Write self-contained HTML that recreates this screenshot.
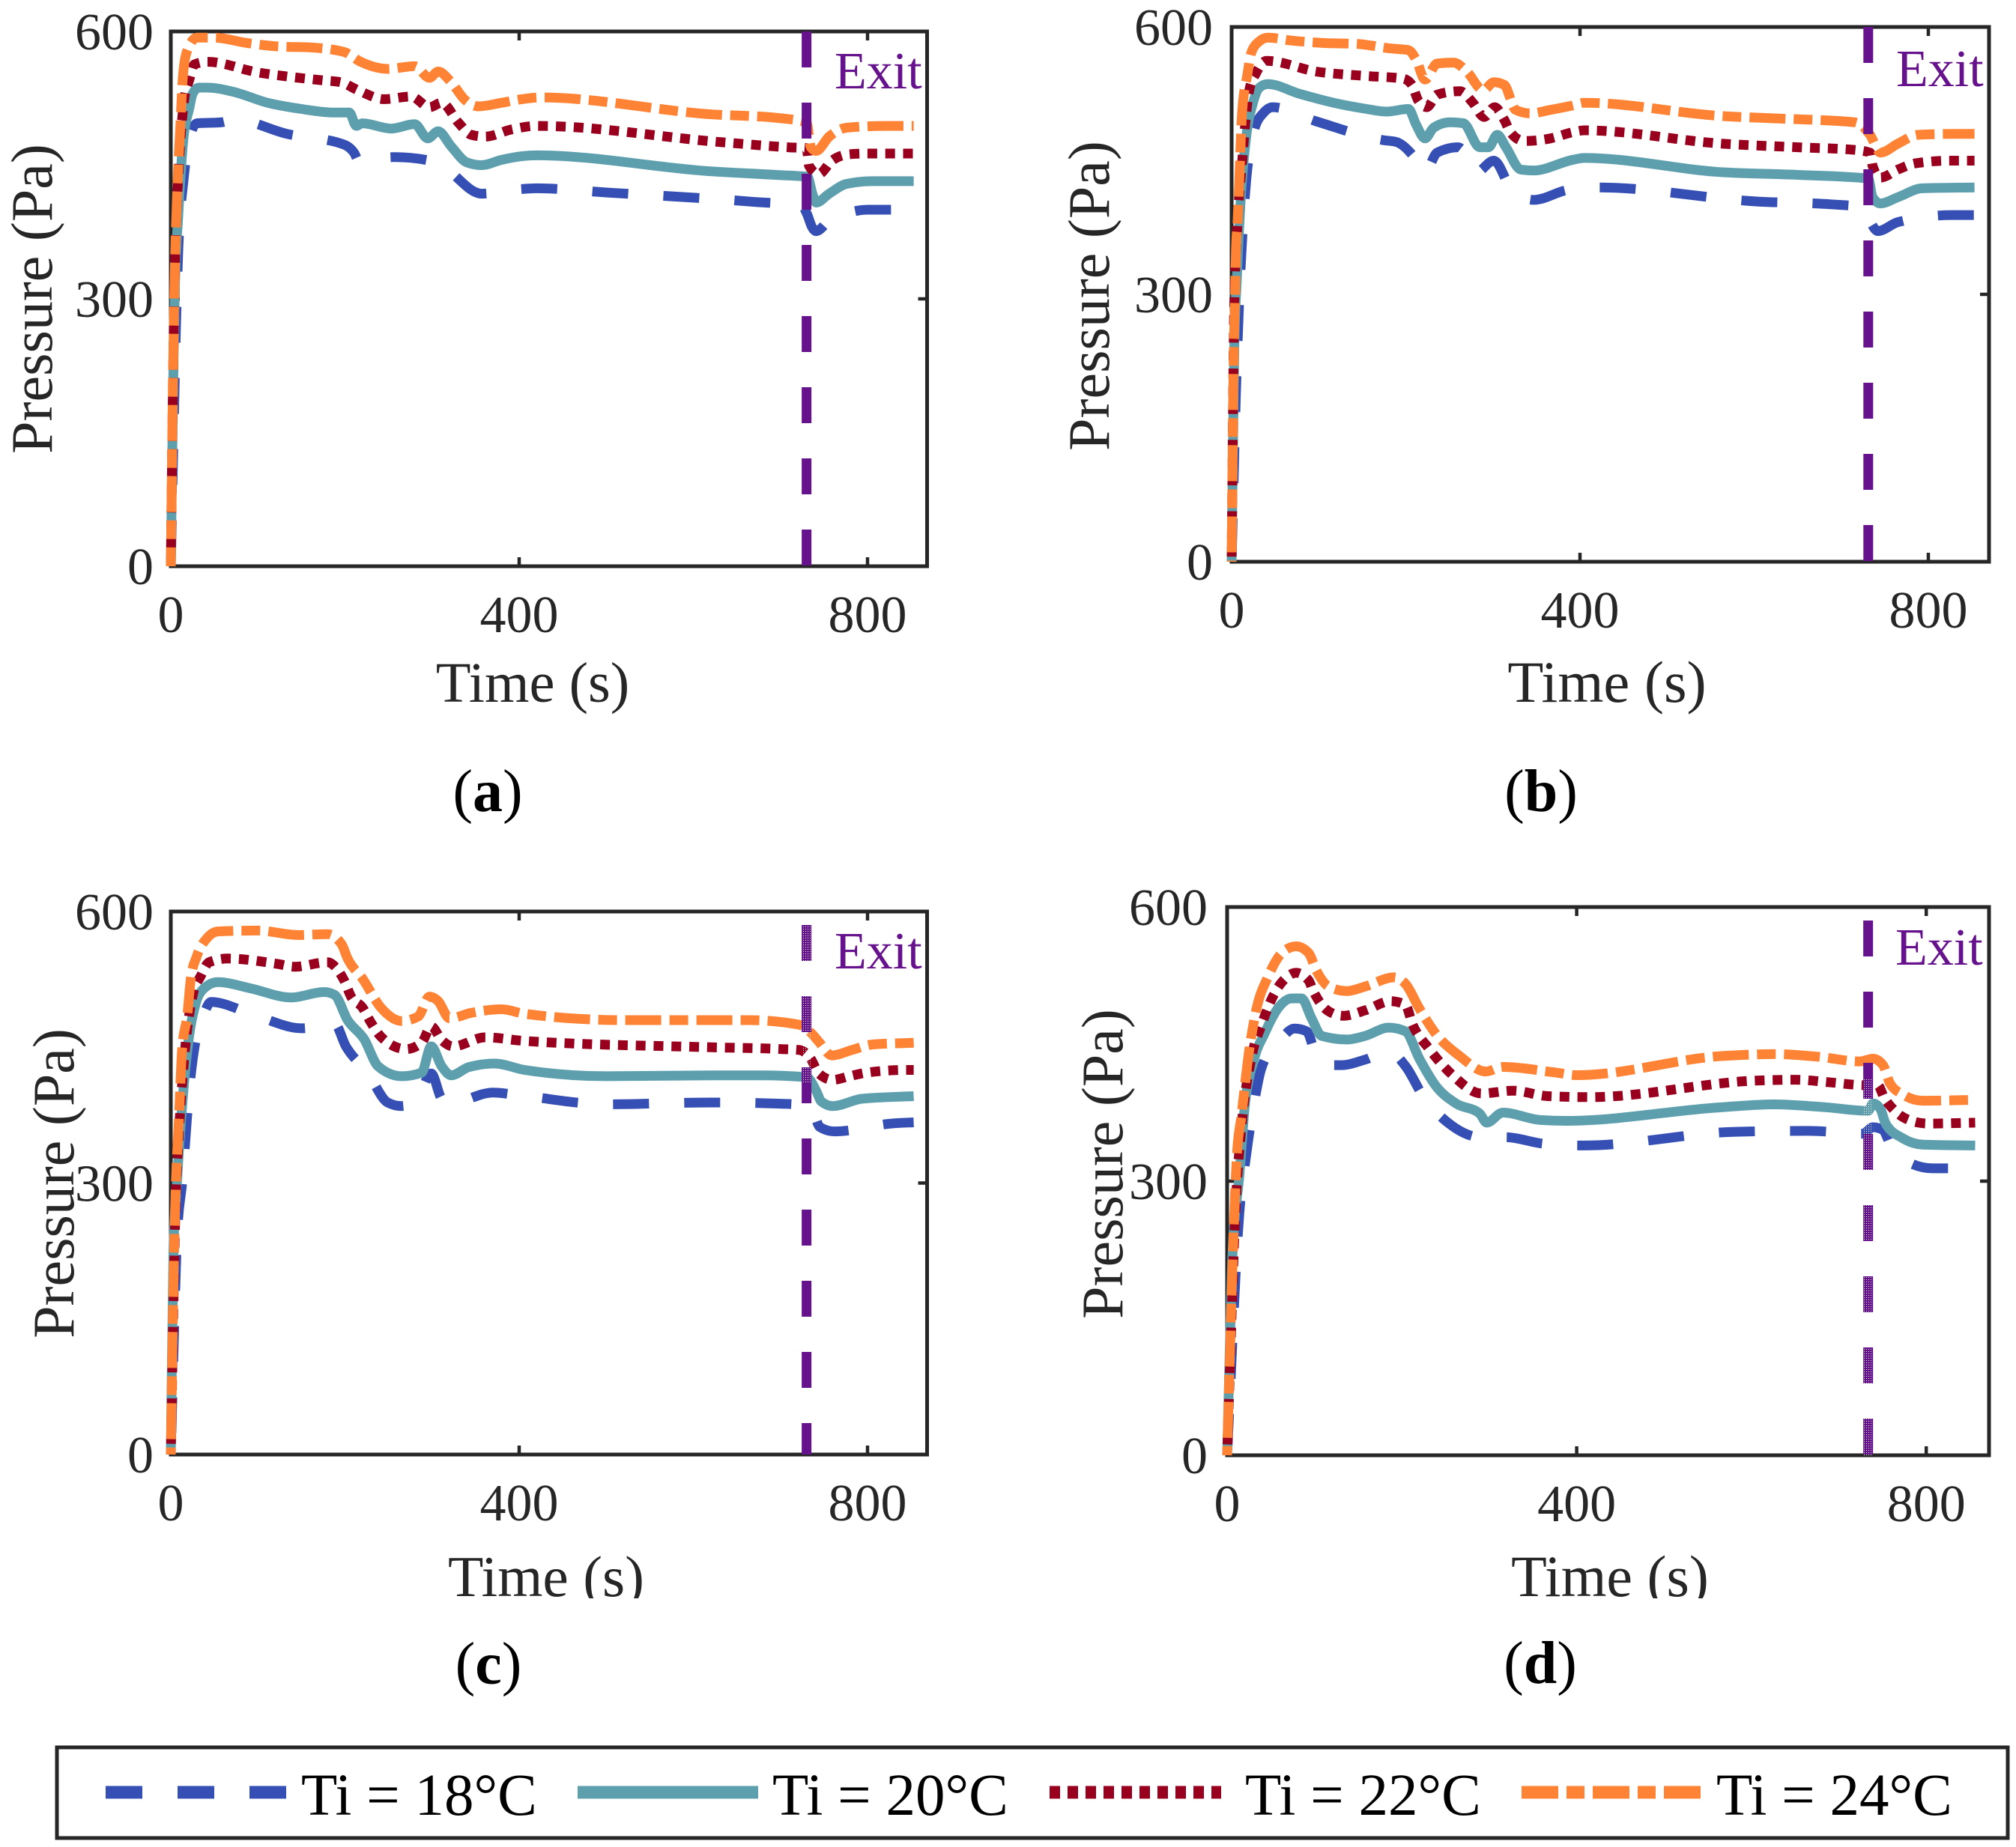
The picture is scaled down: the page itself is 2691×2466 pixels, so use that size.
<!DOCTYPE html>
<html lang="en">
<head>
<meta charset="utf-8">
<title>Pressure versus time for four panels</title>
<style>
html,body{margin:0;padding:0;background:#fff;}
svg{display:block;font-family:"Liberation Serif","Times New Roman",serif;}
</style>
</head>
<body>
<svg id="figure" xmlns="http://www.w3.org/2000/svg" width="2691" height="2466" viewBox="0 0 2691 2466">
  <defs>
    <pattern id="stipple" patternUnits="userSpaceOnUse" width="3" height="3"><rect x="1" y="1" width="1" height="1" fill="#ffffff"/></pattern>
    <clipPath id="clip-c"><rect x="400" y="2040" width="700" height="94"/></clipPath>
    <clipPath id="clip-d"><rect x="1800" y="2040" width="700" height="94"/></clipPath>
  </defs>
  <rect width="2691" height="2466" fill="#ffffff"/>
  <g id="panels"></g>
  <g>
    <rect x="76" y="2333" width="2604" height="121" fill="#ffffff" stroke="#262626" stroke-width="5"/>
    <g>
      <line x1="141" x2="382" y1="2393" y2="2393" stroke="#354fb4" stroke-width="17" stroke-dasharray="49 47"/>
      <text x="402" y="2423" font-size="79" fill="#000">Ti = 18°C</text>
    </g>
    <g>
      <line x1="771" x2="1012" y1="2393" y2="2393" stroke="#5e9fae" stroke-width="17"/>
      <text x="1031" y="2423" font-size="79" fill="#000">Ti = 20°C</text>
    </g>
    <g>
      <line x1="1401" x2="1630" y1="2393" y2="2393" stroke="#98001d" stroke-width="17" stroke-dasharray="14 10"/>
      <text x="1662" y="2423" font-size="79" fill="#000">Ti = 22°C</text>
    </g>
    <g>
      <line x1="2031" x2="2272" y1="2393" y2="2393" stroke="#ff8334" stroke-width="17" stroke-dasharray="49 11 24 11"/>
      <text x="2291" y="2423" font-size="79" fill="#000">Ti = 24°C</text>
    </g>
  </g>
</svg>
<script>
const xTickValues = [0, 400, 800];
const yTickValues = [0, 300, 600];
const seriesLabels = ['18', '20', '22', '24'];

const aTime18 = [0,3,6,8.6,14.7,23,30,57,73,134,199,211,215,257,307,318,357,400,420,505,667,725,731,736,741,756,776,800,853];
const aPressure18 = [0,140,271,355,434,485,497,498,501,485,473,463,456,459,453,445,418,423,424,419,409,404,394,381,376,388,396,400,400];
const aTime20 = [0,3.2,4.7,8.6,14,21.5,25,32,42,73,111,150,188,205,213,220,253,280,295,307,322,340,357,380,403,420,621,696,731,737,741,756,776,805,853];
const aPressure20 = [0,234,314,394,475,515,530,537,537,532,520,513,509,509,494,497,491,496,480,488,471,453,450,456,460,461,443,439,437,417,408,418,429,432,432];
const aTime22 = [0,3.7,5.5,9,15.5,21,27,42,100,138,176,195,215,245,276,297,311,330,345,361,391,420,630,710,730,733,744,759,777,797,853];
const aPressure22 = [0,285,366,445,524,545,563,566,554,549,545,543,534,524,527,515,520,498,484,482,490,494,476,470,469,449,440,455,462,463,463];
const aTime24 = [0,2.6,4.3,7,11,14,19,30,50,88,126,161,199,218,249,280,297,307,322,338,353,380,403,425,621,696,730,735,741,756,776,822,853];
const aPressure24 = [0,215,318,411,495,551,579,593,593,587,583,582,577,566,558,561,548,555,543,523,516,520,524,526,507,503,498,470,466,482,492,494,494];

const bTime18 = [0,5,10,15,26,37,47,97.5,174,189,212,222,236,260,270,281,301,322,347,385,420,606,688,725,733,742,765,828,853];
const bPressure18 = [0,190,322,406,485,504,510,494,473,471,451,437,459,465,456,437,450,417,406,417,420,404,401,398,382,371,381,389,389];
const bTime20 = [0,3,6,10,17,24,32,41.5,78,117,155,178,203,212,222,232,251,266,285,295,305,315,332,347,392,405,564,650,731,736,745,765,793,853];
const bPressure20 = [0,238,318,399,479,513,532,536,525,515,508,505,508,490,475,487,493,492,465,465,479,465,440,439,451,453,437,434,430,409,402,409,419,420];
const bTime22 = [0,3,6,12,20,28,40,97,155,197,207,214,224,236,262,277,290,302,313,320,336,366,392,405,564,650,716,733,736,745,765,785,825,853];
const bPressure22 = [0,288,367,448,528,548,562,550,545,542,535,518,510,524,528,515,499,510,496,482,472,475,482,484,469,465,462,459,444,431,440,447,450,450];
const bTime24 = [0,2.3,4,5,7,9,12,18,22.5,32,41.5,67,105,144,182,203,212,222,236,255,270,289,301,313,326,343,366,392,405,564,636,716,733,745,765,788,831,853];
const bPressure24 = [0,224,302,350,384,434,504,546,571,584,588,585,582,581,576,574,563,541,559,560,550,529,538,535,507,503,507,512,515,500,497,493,479,459,469,479,480,480];

const cTime18 = [0,7.4,13,21.6,30,38,46,100,150,169,188,201,226,249,265,282,299,311,320,370,400,500,621,690,730,738,745,762,830,853];
const cPressure18 = [0,244,300,407,465,487,500,484,471,473,476,451,422,389,385,391,421,393,388,400,397,387,389,388,386,378,362,357,366,367];
const cTime20 = [0,3,7.4,13,21,28.5,38,54,92,138,176,188,203,222,238,265,288,299,311,322,342,372,406,500,621,678,730,741,747,760,793,853];
const cPressure20 = [0,224,306,385,462,498,515,522,515,505,511,508,480,459,429,418,422,451,429,419,428,432,425,418,419,419,417,402,390,385,393,396];
const cTime22 = [0,5.5,9.3,15,26,34,44,65,123,142,180,192,199.5,207,220,230,242,270,288,299,311,324,361,406,621,702,722,735,744,760,779,799,845,853];
const cPressure22 = [0,277,355,433,511,528,544,548,542,539,544,535,523,506,494,477,461,448,455,473,458,451,461,457,450,448,447,437,421,414,418,422,425,425];
const cTime24 = [0,3.6,5.5,9.3,13,19,23,30,42,54,100,146,180,196,203,220,242,265,284,297,307,320,345,380,406,520,621,664,721,736,745,759,782,805,853];
const cPressure24 = [0,217,290,370,448,486,526,551,571,578,579,574,575,564,548,526,493,479,484,506,501,482,488,492,487,480,480,480,475,465,455,441,447,453,455];

const dTime18 = [0,14,22,31.4,39,62,77,91,102,114,131,158,185,204,225,254,291,319,362,408,582,665,727.5,739,750.5,758.5,779,807,856];
const dPressure18 = [0,265,330,388,423,456,467,464,437,427,427,433,442,426,392,363,348,348,341,339,354,355,352,359,356,341,321,314,314];
const dTime20 = [0,6.4,14,20,31,43,58,74,85,96.7,108,137,158,185,204,220,239,262,289,297,315.5,358,388,567,625,683,733.5,739,747.5,753.5,773,796,856];
const dPressure20 = [0,226,306,380,434,462,489,500,500,478,459,455,459,468,464,434,404,385,374,364,375,367,366,381,384,381,377,385,379,363,347,340,339];
const dTime22 = [0,10,16,28,39,55,68,79,93,98.6,116,133,158,187,204,212,231,258,291,327,367,415,605,651,691,730.5,744.5,751.5,764,780,802,856];
const dPressure22 = [0,278,355,436,470,507,523,528,520,508,486,481,487,497,493,472,445,416,396,399,393,392,410,411,408,405,405,392,377,367,363,364];
const dTime24 = [0,6.4,11.4,16,26,33,47,62,79,93,102.4,116,137,158,191,204,220,239,266,296,315.5,375,400,567,625,678,724,739,750.5,758.5,773,796,856];
const dPressure24 = [0,215,332,369,448,486,524,549,557,550,530,513,508,513,523,516,489,461,437,420,425,419,416,437,439,436,431,434,427,407,395,388,389];

const panels = [
  {id:'a', left:228, frameRight:1237.5, top:42, bottom:756, scaleX:1.1625, exitTime:730, exitTop:42,
   yTickRight:205, xTickBase:844, xLabelX:711, xLabelBase:937, xLabelSize:76.5, yLabelX:69, yLabelY:399,
   tagX:651, tagBase:1083, tag:'a', exitX:1114, exitBase:118, dashStarts:[647,0,625.4,673],
   series:[[aTime18,aPressure18],[aTime20,aPressure20],[aTime22,aPressure22],[aTime24,aPressure24]]},
  {id:'b', left:1644, frameRight:2655, top:36, bottom:750, scaleX:1.1625, exitTime:731, exitTop:36,
   yTickRight:1619, xTickBase:838, xLabelX:2145, xLabelBase:937, xLabelSize:78.5, yLabelX:1480, yLabelY:395,
   tagX:2057, tagBase:1083, tag:'b', exitX:2531, exitBase:115, dashStarts:[585,0,582,676],
   series:[[bTime18,bPressure18],[bTime20,bPressure20],[bTime22,bPressure22],[bTime24,bPressure24]]},
  {id:'c', left:228, frameRight:1237.5, top:1217, bottom:1942, scaleX:1.1625, exitTime:730, exitTop:1235,
   yTickRight:205, xTickBase:2030, xLabelX:729, xLabelBase:2131, xLabelSize:77.5, yLabelX:98, yLabelY:1580,
   tagX:652, tagBase:2248, tag:'c', exitX:1114, exitBase:1293, clip:'url(#clip-c)', dashStarts:[671,0,636,685],
   stippleTop:1235, stippleBottom:1445,
   series:[[cTime18,cPressure18],[cTime20,cPressure20],[cTime22,cPressure22],[cTime24,cPressure24]]},
  {id:'d', left:1638, frameRight:2655, top:1211, bottom:1943, scaleX:1.1665, exitTime:733.5, exitTop:1229,
   yTickRight:1612, xTickBase:2031, xLabelX:2149, xLabelBase:2131, xLabelSize:78, yLabelX:1498, yLabelY:1554,
   tagX:2056, tagBase:2247, tag:'d', exitX:2530, exitBase:1288, clip:'url(#clip-d)', dashStarts:[644,0,624,637],
   stippleTop:1441, stippleBottom:1943,
   series:[[dTime18,dPressure18],[dTime20,dPressure20],[dTime22,dPressure22],[dTime24,dPressure24]]}
];

const seriesStyles = [
  {color:'#354fb4', dash:'48 47'},
  {color:'#5e9fae', dash:''},
  {color:'#98001d', dash:'13 10.8'},
  {color:'#ff8334', dash:'48 11 25 11'}
];

const NS = 'http://www.w3.org/2000/svg';
const root = document.getElementById('panels');

function make(tag, attrs, parent, text) {
  const el = document.createElementNS(NS, tag);
  for (const k in attrs) el.setAttribute(k, attrs[k]);
  if (text !== undefined) el.textContent = text;
  parent.appendChild(el);
  return el;
}

function curvePath(xs, ys) {
  const n = xs.length, h = [], s = [], m = [];
  for (let i = 0; i < n - 1; i++) {
    h[i] = xs[i + 1] - xs[i];
    s[i] = (ys[i + 1] - ys[i]) / h[i];
  }
  m[0] = s[0];
  m[n - 1] = s[n - 2];
  for (let i = 1; i < n - 1; i++) {
    const p = (s[i - 1] * h[i] + s[i] * h[i - 1]) / (h[i - 1] + h[i]);
    const sign = (Math.sign(s[i - 1]) + Math.sign(s[i])) || 0;
    m[i] = sign * Math.min(Math.abs(s[i - 1]), Math.abs(s[i]), 0.5 * Math.abs(p));
  }
  let d = 'M' + xs[0].toFixed(1) + ' ' + ys[0].toFixed(1);
  for (let i = 0; i < n - 1; i++) {
    const t = h[i] / 3;
    d += 'C' + (xs[i] + t).toFixed(1) + ' ' + (ys[i] + m[i] * t).toFixed(1) + ' ' +
         (xs[i + 1] - t).toFixed(1) + ' ' + (ys[i + 1] - m[i + 1] * t).toFixed(1) + ' ' +
         xs[i + 1].toFixed(1) + ' ' + ys[i + 1].toFixed(1);
  }
  return d;
}

function lengthAtX(path, targetX) {
  let lo = 0, hi = path.getTotalLength();
  for (let i = 0; i < 30; i++) {
    const mid = (lo + hi) / 2;
    if (path.getPointAtLength(mid).x < targetX) lo = mid;
    else hi = mid;
  }
  return (lo + hi) / 2;
}

panels.forEach(function (p) {
  const xAxis = function (t) { return p.left + t * p.scaleX; };
  const yAxis = function (v) { return p.bottom - v / 600 * (p.bottom - p.top); };

  const g = make('g', {}, root);
  
  

  const frame = make('rect', {x:p.left, y:p.top, width:p.frameRight - p.left, height:p.bottom - p.top, fill:'none', stroke:'#262626', 'stroke-width':5}, g);
  
  

  xTickValues.forEach(function (v) {
    const x = xAxis(v);
    const tb = make('line', {x1:x, x2:x, y1:p.bottom, y2:p.bottom - 12, stroke:'#262626', 'stroke-width':4.5}, g);
    
    
    const tt = make('line', {x1:x, x2:x, y1:p.top, y2:p.top + 12, stroke:'#262626', 'stroke-width':4.5}, g);
    
    
    const lab = make('text', {x:x, y:p.xTickBase, 'font-size':70, fill:'#262626', 'text-anchor':'middle'}, g, String(v));
    
    
  });

  yTickValues.forEach(function (v) {
    const y = yAxis(v);
    const tl = make('line', {x1:p.left, x2:p.left + 12, y1:y, y2:y, stroke:'#262626', 'stroke-width':4.5}, g);
    
    
    const tr = make('line', {x1:p.frameRight, x2:p.frameRight - 12, y1:y, y2:y, stroke:'#262626', 'stroke-width':4.5}, g);
    
    
    const lab = make('text', {x:p.yTickRight, y:y + 24, 'font-size':70, fill:'#262626', 'text-anchor':'end'}, g, String(v));
    
    
  });

  const xTitleAttrs = {x:p.xLabelX, y:p.xLabelBase, 'font-size':p.xLabelSize, fill:'#262626', 'text-anchor':'middle'};
  if (p.clip) xTitleAttrs['clip-path'] = p.clip;
  const xTitle = make('text', xTitleAttrs, g, 'Time (s)');
  
  

  const yTitle = make('text', {transform:'translate(' + p.yLabelX + ' ' + p.yLabelY + ') rotate(-90)', 'font-size':78, fill:'#262626', 'text-anchor':'middle'}, g, 'Pressure (Pa)');
  
  

  p.series.forEach(function (pair, i) {
    const xs = pair[0].map(xAxis);
    const ys = pair[1].map(yAxis);
    const style = seriesStyles[i];
    const attrs = {d:curvePath(xs, ys), fill:'none', stroke:style.color, 'stroke-width':13, 'stroke-linejoin':'round'};
    if (style.dash) attrs['stroke-dasharray'] = style.dash;
    const line = make('path', attrs, g);
    
    
    if (style.dash) {
      line.setAttribute('stroke-dashoffset', (-lengthAtX(line, xAxis(p.dashStarts[i]))).toFixed(1));
    }
  });

  const exitPx = xAxis(p.exitTime);
  const exitLine = make('line', {x1:exitPx, x2:exitPx, y1:p.exitTop, y2:p.bottom, stroke:'#66128c', 'stroke-width':13, 'stroke-dasharray':'48 47'}, g);
  
  

  if (p.stippleTop) {
    const st = make('rect', {x:exitPx - 6.5, y:p.stippleTop, width:13, height:p.stippleBottom - p.stippleTop, fill:'url(#stipple)'}, g);
    
    
  }

  const exitText = make('text', {x:p.exitX, y:p.exitBase, 'font-size':70, fill:'#66128c'}, g, 'Exit');
  
  

  const tag = make('text', {x:p.tagX, y:p.tagBase, 'font-size':80, fill:'#000', 'text-anchor':'middle'}, g);
  
  
  make('tspan', {}, tag, '(');
  make('tspan', {'font-weight':'bold'}, tag, p.tag);
  make('tspan', {}, tag, ')');
});
</script>
</body>
</html>
